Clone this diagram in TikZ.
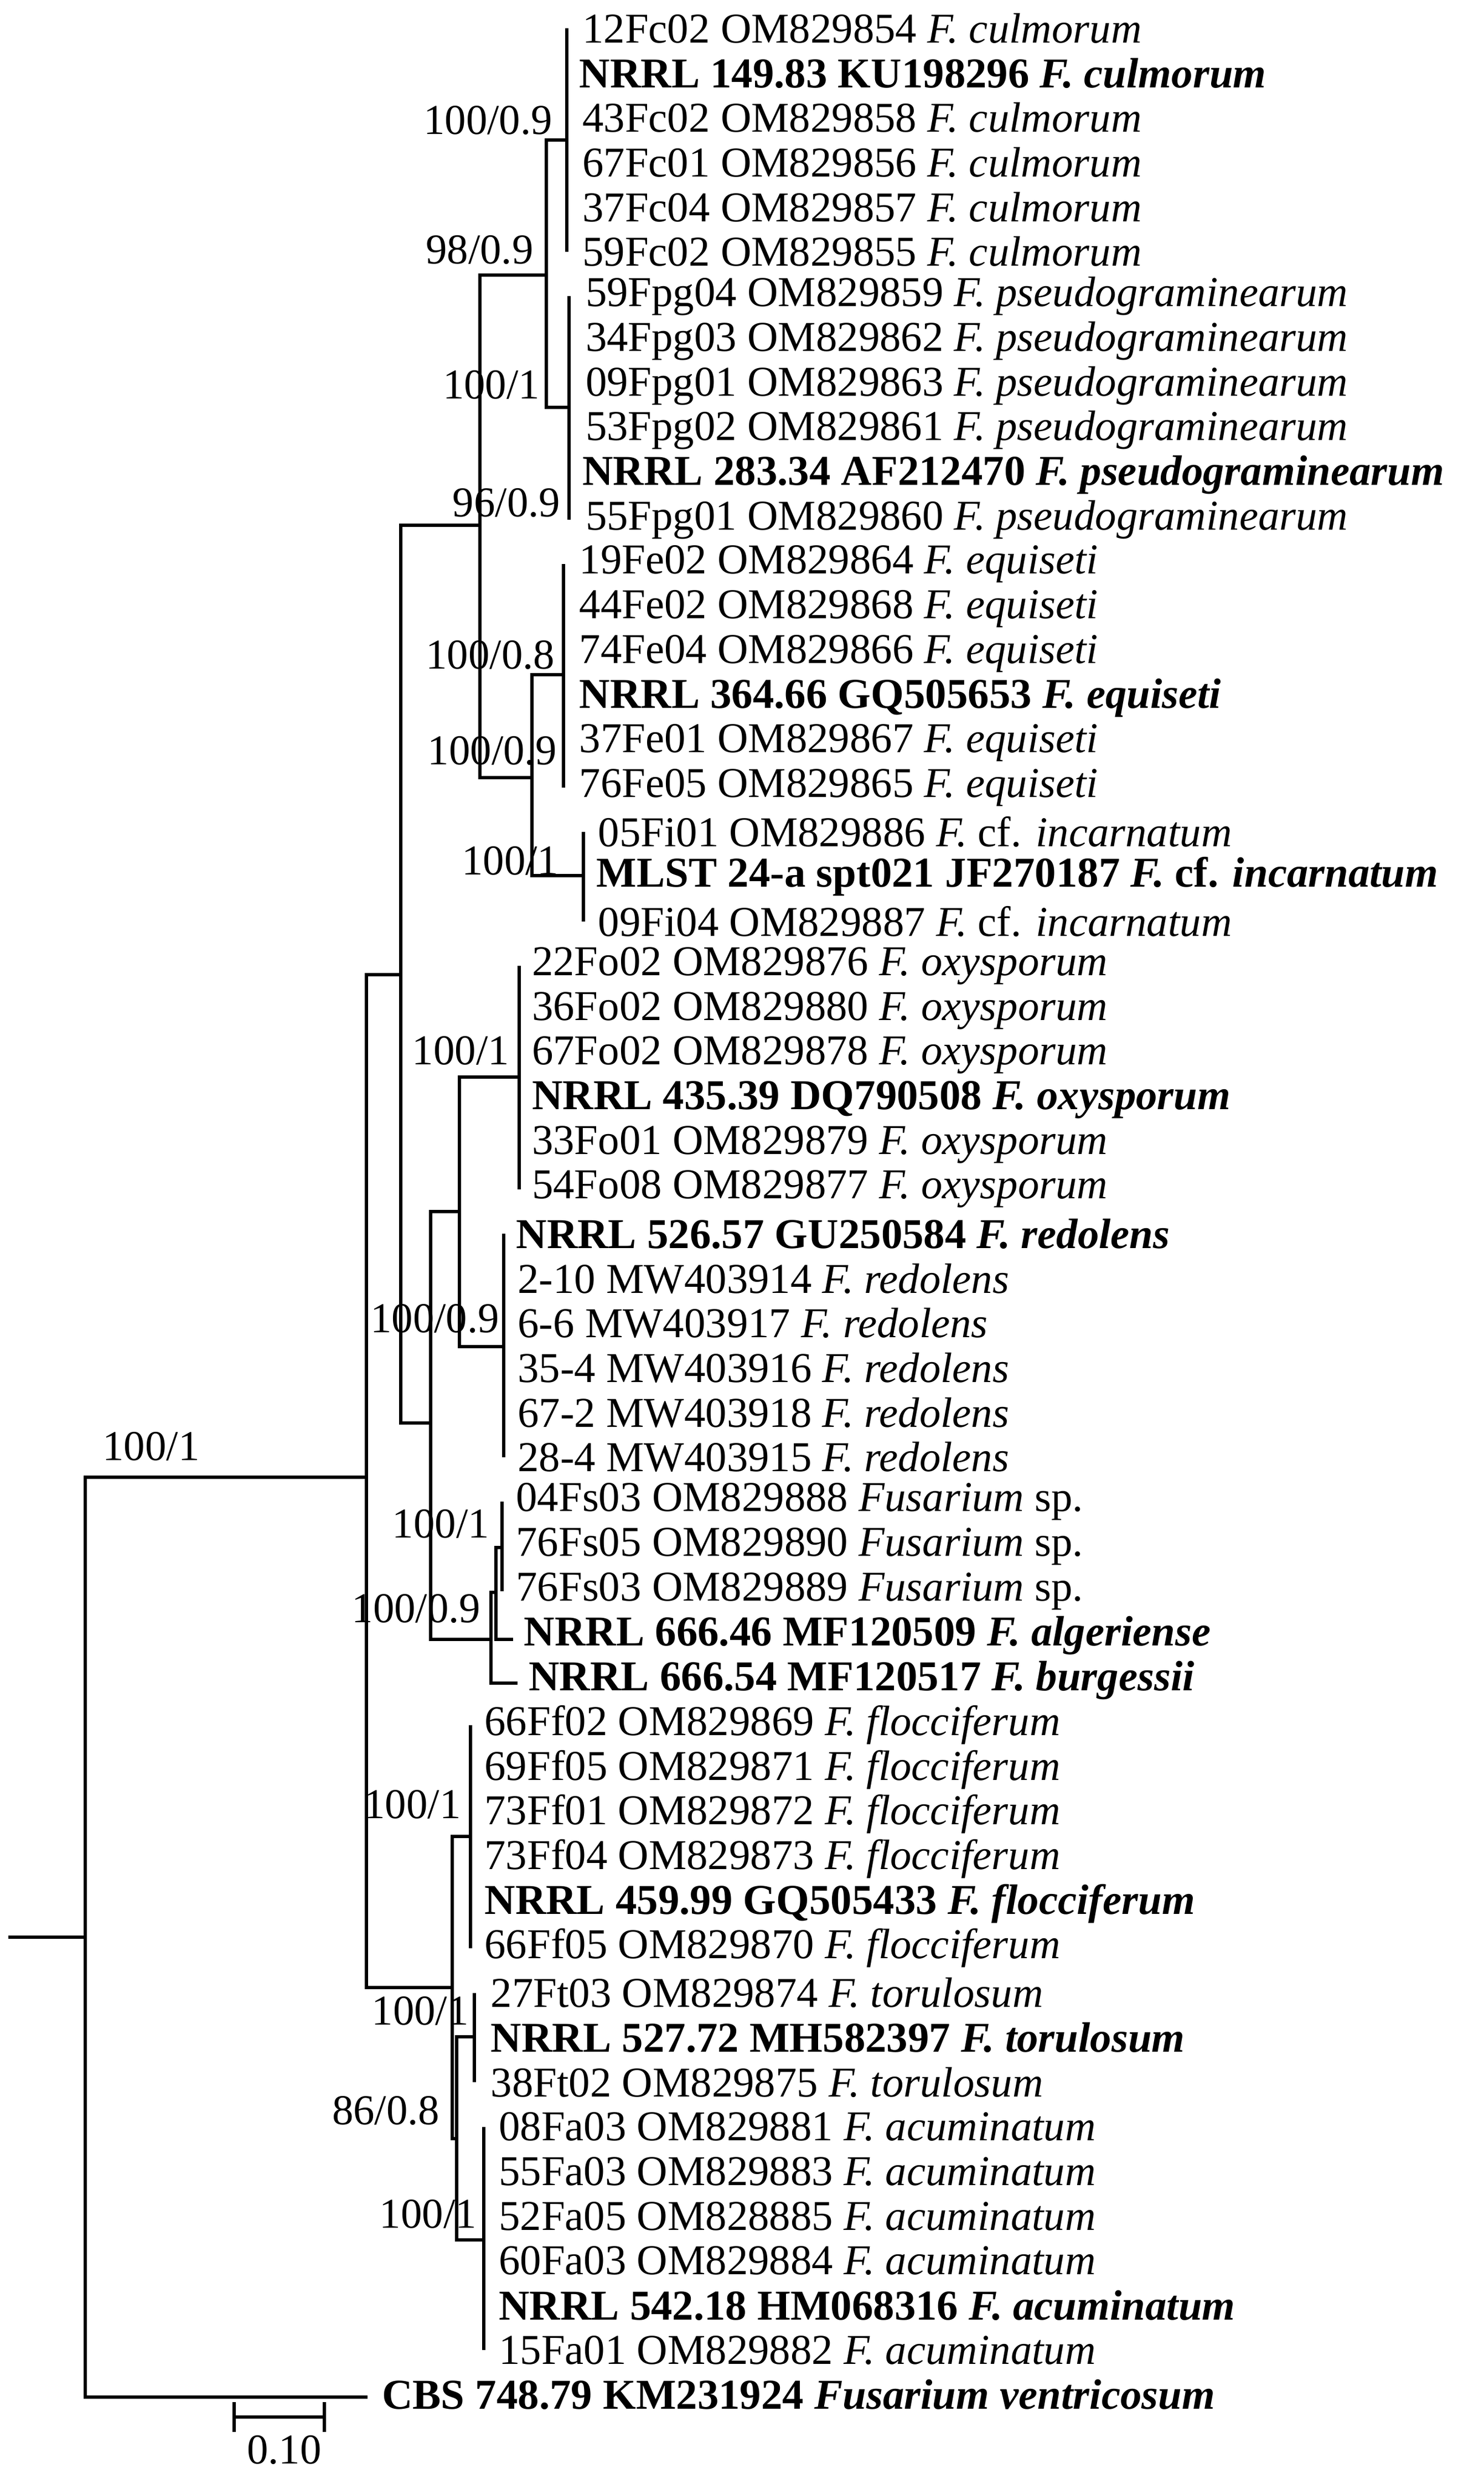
\documentclass[tikz,border=0pt]{standalone}
\usepackage{fontspec}
\setmainfont{Liberation Serif}
\usepackage{tikz}
\newcommand{\spec}[1]{\textit{F. #1}}
\tikzset{
  leaf/.style={anchor=west, inner sep=0pt},
  boot/.style={anchor=east, inner sep=0pt},
  br/.style={line width=1.8pt}
}
\begin{document}
\begin{tikzpicture}[x=0.03cm, y=-0.8487cm, br, font=\fontsize{23}{27}\selectfont]
            \useasboundingbox (0, -0.636) rectangle (940, 55.0);
            % leaves
            \foreach \r/\x/\t in {
                0/368/{12Fc02 OM829854 \spec{culmorum}},
                1/366/{\textbf{NRRL 149.83 KU198296 \spec{culmorum}}},
                2/368/{43Fc02 OM829858 \spec{culmorum}},
                3/368/{67Fc01 OM829856 \spec{culmorum}},
                4/368/{37Fc04 OM829857 \spec{culmorum}},
                5/368/{59Fc02 OM829855 \spec{culmorum}},
                6/370/{59Fpg04 OM829859 \spec{pseudograminearum}},
                7/370/{34Fpg03 OM829862 \spec{pseudograminearum}},
                8/370/{09Fpg01 OM829863 \spec{pseudograminearum}},
                9/370/{53Fpg02 OM829861 \spec{pseudograminearum}},
                10/368/{\textbf{NRRL 283.34 AF212470 \spec{pseudograminearum}}},
                11/370/{55Fpg01 OM829860 \spec{pseudograminearum}},
                12/366/{19Fe02 OM829864 \spec{equiseti}},
                13/366/{44Fe02 OM829868 \spec{equiseti}},
                14/366/{74Fe04 OM829866 \spec{equiseti}},
                15/366/{\textbf{NRRL 364.66 GQ505653 \spec{equiseti}}},
                16/366/{37Fe01 OM829867 \spec{equiseti}},
                17/366/{76Fe05 OM829865 \spec{equiseti}},
                18/378/{05Fi01 OM829886 \textit{F.} cf. \textit{incarnatum}},
                19/377/{\textbf{MLST 24-a spt021 JF270187 \textit{F.} cf. \textit{incarnatum}}},
                20/378/{09Fi04 OM829887 \textit{F.} cf. \textit{incarnatum}},
                21/336/{22Fo02 OM829876 \spec{oxysporum}},
                22/336/{36Fo02 OM829880 \spec{oxysporum}},
                23/336/{67Fo02 OM829878 \spec{oxysporum}},
                24/336/{\textbf{NRRL 435.39 DQ790508 \spec{oxysporum}}},
                25/336/{33Fo01 OM829879 \spec{oxysporum}},
                26/336/{54Fo08 OM829877 \spec{oxysporum}},
                27/326/{\textbf{NRRL 526.57 GU250584 \spec{redolens}}},
                28/327/{2-10 MW403914 \spec{redolens}},
                29/327/{6-6 MW403917 \spec{redolens}},
                30/327/{35-4 MW403916 \spec{redolens}},
                31/327/{67-2 MW403918 \spec{redolens}},
                32/327/{28-4 MW403915 \spec{redolens}},
                33/326/{04Fs03 OM829888 \textit{Fusarium} sp.},
                34/326/{76Fs05 OM829890 \textit{Fusarium} sp.},
                35/326/{76Fs03 OM829889 \textit{Fusarium} sp.},
                36/331/{\textbf{NRRL 666.46 MF120509 \spec{algeriense}}},
                37/334/{\textbf{NRRL 666.54 MF120517 \spec{burgessii}}},
                38/306/{66Ff02 OM829869 \spec{flocciferum}},
                39/306/{69Ff05 OM829871 \spec{flocciferum}},
                40/306/{73Ff01 OM829872 \spec{flocciferum}},
                41/306/{73Ff04 OM829873 \spec{flocciferum}},
                42/306/{\textbf{NRRL 459.99 GQ505433 \spec{flocciferum}}},
                43/306/{66Ff05 OM829870 \spec{flocciferum}},
                44/310/{27Ft03 OM829874 \spec{torulosum}},
                45/310/{\textbf{NRRL 527.72 MH582397 \spec{torulosum}}},
                46/310/{38Ft02 OM829875 \spec{torulosum}},
                47/315/{08Fa03 OM829881 \spec{acuminatum}},
                48/315/{55Fa03 OM829883 \spec{acuminatum}},
                49/315/{52Fa05 OM828885 \spec{acuminatum}},
                50/315/{60Fa03 OM829884 \spec{acuminatum}},
                51/315/{\textbf{NRRL 542.18 HM068316 \spec{acuminatum}}},
                52/315/{15Fa01 OM829882 \spec{acuminatum}},
                53/241/{\textbf{CBS 748.79 KM231924 \textit{Fusarium ventricosum}}}} {
                    \node[leaf] (l\r) at (\x, \r) {\t};
            }
            % clusters
            \coordinate (culm) at (359, 2.5);
            \coordinate (pseudo) at (360.7, 8.49);
            \coordinate (equi) at (357, 14.48);
            \coordinate (inc) at (369.7, 18.98);
            \coordinate (oxy) at (329, 23.49);
            \coordinate (red) at (319, 29.53);
            \coordinate (fs) at (318, 34.02);
            \coordinate (floc) at (298, 40.49);
            \coordinate (tor) at (300.5, 44.98);
            \coordinate (acum) at (306.6, 49.53);
            \draw (culm |- l0) -- (culm |- l5);
            \draw (pseudo |- l6) -- (pseudo |- l11);
            \draw (equi |- l12) -- (equi |- l17);
            \draw (inc |- l18) -- (inc |- l20);
            \draw (oxy |- l21) -- (oxy |- l26);
            \draw (red |- l27) -- (red |- l32);
            \draw (fs |- l33) -- (fs |- l35);
            \draw (floc |- l38) -- (floc |- l43);
            \draw (tor |- l44) -- (tor |- l46);
            \draw (acum |- l47) -- (acum |- l52);
            % internal nodes
            \coordinate (root) at (54, 42.75);
            \coordinate (stub) at (5.4, 42.75);
            \coordinate (nA) at (232, 32.45);
            \coordinate (nB) at (254, 21.19);
            \coordinate (nG) at (286.5, 43.88);
            \coordinate (nH) at (289.4, 47.26);
            \coordinate (n96) at (304, 11.13);
            \coordinate (n98) at (346, 5.52);
            \coordinate (n109) at (337, 16.78);
            \coordinate (nC) at (273, 31.24);
            \coordinate (nD) at (291, 26.5);
            \coordinate (nE) at (311, 36.08);
            \coordinate (nF) at (314.3, 35.03);
            \coordinate (alg) at (325, 36.08);
            \coordinate (burg) at (328, 37.06);
            \coordinate (cbs) at (233, 53.05);
            \draw (stub) -- (root);
            \draw (nA) -| (root) |- (cbs);
            \draw (nB) -| (nA) |- (nG);
            \draw (n96) -| (nB) |- (nC);
            \draw (n98) -| (n96) |- (n109);
            \draw (culm) -| (n98) |- (pseudo);
            \draw (equi) -| (n109) |- (inc);
            \draw (nD) -| (nC) |- (nE);
            \draw (oxy) -| (nD) |- (red);
            \draw (nF) -| (nE) |- (burg);
            \draw (fs) -| (nF) |- (alg);
            \draw (floc) -| (nG) |- (nH);
            \draw (tor) -| (nH) |- (acum);
            % support values
            \node[boot] (b1) at (351, 2.06) {100/0.9};
            \node[boot] (b2) at (339, 4.96) {98/0.9};
            \node[boot] (b3) at (343, 7.98) {100/1};
            \node[boot] (b4) at (356, 10.63) {96/0.9};
            \node[boot] (b5) at (352.5, 14.04) {100/0.8};
            \node[boot] (b6) at (353.7, 16.18) {100/0.9};
            \node[boot] (b7) at (355, 18.64) {100/1};
            \node[boot] (b8) at (323.7, 22.9) {100/1};
            \node[boot] (b9) at (317.4, 28.9) {100/0.9};
            \node[boot] (b10) at (311, 33.5) {100/1};
            \node[boot] (b11) at (305.6, 35.4) {100/0.9};
            \node[boot] (b12) at (127.5, 31.76) {100/1};
            \node[boot] (b13) at (293, 39.78) {100/1};
            \node[boot] (b14) at (298, 44.4) {100/1};
            \node[boot] (b15) at (279.6, 46.64) {86/0.8};
            \node[boot] (b16) at (303, 48.95) {100/1};
            % scale bar
            \coordinate (s1) at (148.4, 53.5);
            \coordinate (s2) at (205.5, 53.5);
            \draw (s1) -- (s2);
            \draw ([yshift=0.28cm] s1) -- ([yshift=-0.28cm] s1);
            \draw ([yshift=0.28cm] s2) -- ([yshift=-0.28cm] s2);
            \node (sc) at (180, 54.24) {0.10};
    \end{tikzpicture}
\end{document}
